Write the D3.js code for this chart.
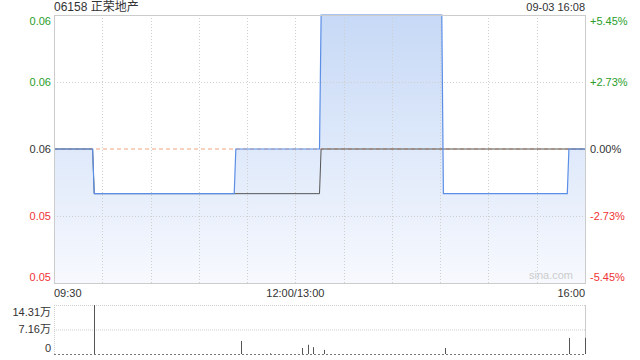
<!DOCTYPE html>
<html>
<head>
<meta charset="utf-8">
<script src="https://cdn.jsdelivr.net/npm/d3@7"></script>
<style>
  body { margin: 0; background: #fff; }
  svg text { font-family: "Liberation Sans", Arial, "Noto Sans CJK SC", sans-serif; }
</style>
</head>
<body>
<div id="chart"></div>
<script>
// price change points (time, price) and avg line change points
var priceTimes = ["09:30", "09:55", "11:23", "13:16", "14:32", "15:50", "16:00"];
var priceValues = [0.055, 0.054, 0.055, 0.058, 0.054, 0.055, 0.055];
var avgTimes = ["09:30", "09:55", "13:16", "16:00"];
var avgValues = [0.055, 0.054, 0.055, 0.055];

// volume bars (unit: 万)
var volTimes = ["09:55", "11:26", "11:44", "13:04", "13:08", "13:11", "13:18", "14:33", "15:50", "16:00"];
var volValues = [14.31, 3.8, 0.2, 1.75, 2.7, 2.0, 1.2, 1.75, 4.7, 4.7];

var prevClose = 0.055;
var yTicks = [0.052, 0.0535, 0.055, 0.0565, 0.058];
var yLabels = ["0.05", "0.05", "0.06", "0.06", "0.06"];
var pctLabels = ["-5.45%", "-2.73%", "0.00%", "+2.73%", "+5.45%"];
var xTickTimes = ["09:30", "12:00", "16:00"];
var xTickLabels = ["09:30", "12:00/13:00", "16:00"];
var volTicks = [0, 7.155, 14.31];
var volLabels = ["0", "7.16万", "14.31万"];

var title = "06158 正荣地产";
var stamp = "09-03 16:08";

// trading minutes since open (lunch break removed)
function tmin(s) {
  var p = s.split(":"), m = +p[0] * 60 + +p[1];
  return m <= 720 ? m - 570 : m - 780 + 150;
}

var W = 640, H = 360;
var pLeft = 54, pRight = 585, pTop = 15, pBottom = 283;
var vTop = 305, vBottom = 354;

var svg = d3.select("#chart").append("svg")
    .attr("width", W)
    .attr("height", H);

var x = d3.scaleLinear().domain([0, 330]).range([pLeft, pRight]);
var y = d3.scaleLinear().domain([0.052, 0.058]).range([pBottom, pTop]);
var yv = d3.scaleLinear().domain([0, 14.31]).range([vBottom, vTop]);

var defs = svg.append("defs");
var grad = defs.append("linearGradient")
    .attr("id", "fillGrad")
    .attr("gradientUnits", "userSpaceOnUse")
    .attr("x1", 0).attr("y1", pTop).attr("x2", 0).attr("y2", pBottom);
grad.append("stop").attr("offset", "0%").attr("stop-color", "#c6d9f6");
grad.append("stop").attr("offset", "100%").attr("stop-color", "#f7f9fe");

// build minute points: hold previous value until one minute before a change
function steps(times, vals) {
  var pts = [];
  times.forEach(function(t, i) {
    var m = tmin(t);
    if (i > 0 && vals[i] !== vals[i - 1]) pts.push([m - 1, vals[i - 1]]);
    pts.push([m, vals[i]]);
  });
  return pts;
}
var pricePts = steps(priceTimes, priceValues);
var avgPts = steps(avgTimes, avgValues);

// area
svg.append("path")
    .datum(pricePts)
    .attr("fill", "url(#fillGrad)")
    .attr("d", d3.area()
      .x(function(d) { return x(d[0]); })
      .y0(pBottom)
      .y1(function(d) { return y(d[1]); }));

// grid
var gridColor = "#cfcfcf";
for (var i = 1; i < 11; i++) {
  svg.append("line")
      .attr("x1", Math.round(x(i * 30)) + 0.5).attr("x2", Math.round(x(i * 30)) + 0.5)
      .attr("y1", pTop).attr("y2", pBottom)
      .attr("stroke", gridColor).attr("stroke-dasharray", "1,2");
}
[0.0535, 0.0565].forEach(function(v) {
  svg.append("line")
      .attr("x1", pLeft).attr("x2", pRight)
      .attr("y1", Math.round(y(v)) + 0.5).attr("y2", Math.round(y(v)) + 0.5)
      .attr("stroke", gridColor).attr("stroke-dasharray", "1,2");
});

// prev close dashed
svg.append("line")
    .attr("x1", pLeft).attr("x2", pRight)
    .attr("y1", y(prevClose)).attr("y2", y(prevClose))
    .attr("stroke", "#f2a57e").attr("stroke-dasharray", "4,3");

// avg line
svg.append("path")
    .datum(avgPts)
    .attr("fill", "none")
    .attr("stroke", "#555")
    .attr("stroke-width", 1)
    .attr("d", d3.line().x(function(d) { return x(d[0]); }).y(function(d) { return y(d[1]); }));

// price line
svg.append("path")
    .datum(pricePts)
    .attr("fill", "none")
    .attr("stroke", "#5b8ee6")
    .attr("stroke-width", 1.2)
    .attr("d", d3.line().x(function(d) { return x(d[0]); }).y(function(d) { return y(d[1]); }));

// border
svg.append("rect")
    .attr("x", pLeft + 0.5).attr("y", pTop + 0.5)
    .attr("width", pRight - pLeft).attr("height", pBottom - pTop)
    .attr("fill", "none").attr("stroke", "#cccccc");

// y labels
var colorOf = function(v) { return v > prevClose ? "#2a9d2a" : v < prevClose ? "#f03333" : "#333"; };
yTicks.forEach(function(v, i) {
  var yy = y(v);
  if (i === 0) yy -= 6;
  if (i === yTicks.length - 1) yy += 6;
  svg.append("text").attr("x", 51).attr("y", yy).attr("dy", "0.35em")
      .attr("text-anchor", "end").attr("font-size", 11).attr("fill", colorOf(v)).text(yLabels[i]);
  svg.append("text").attr("x", 590).attr("y", yy).attr("dy", "0.35em")
      .attr("text-anchor", "start").attr("font-size", 11).attr("fill", colorOf(v)).text(pctLabels[i]);
});

// watermark
svg.append("text").attr("x", 573).attr("y", 279).attr("text-anchor", "end")
    .attr("font-size", 11).attr("fill", "#cccccc").text("sina.com");

// title / stamp
svg.append("text").attr("x", pLeft).attr("y", 11).attr("font-size", 12).attr("fill", "#333").text(title);
svg.append("text").attr("x", pRight).attr("y", 11).attr("text-anchor", "end")
    .attr("font-size", 11).attr("fill", "#333").text(stamp);

// x labels
xTickTimes.forEach(function(t, i) {
  svg.append("text").attr("x", x(tmin(t))).attr("y", 297)
      .attr("text-anchor", i === 0 ? "start" : i === xTickTimes.length - 1 ? "end" : "middle")
      .attr("font-size", 11).attr("fill", "#333").text(xTickLabels[i]);
});

// volume panel grid
[7.155, 14.31].forEach(function(v) {
  svg.append("line")
      .attr("x1", pLeft).attr("x2", pRight)
      .attr("y1", yv(v) + 0.5).attr("y2", yv(v) + 0.5)
      .attr("stroke", gridColor).attr("stroke-dasharray", "1,1");
});
svg.append("line")
    .attr("x1", pLeft + 0.5).attr("x2", pLeft + 0.5).attr("y1", vTop).attr("y2", vBottom)
    .attr("stroke", gridColor).attr("stroke-dasharray", "1,1");
svg.append("line")
    .attr("x1", pRight + 0.5).attr("x2", pRight + 0.5).attr("y1", vTop).attr("y2", vBottom)
    .attr("stroke", "#cccccc");
svg.append("line")
    .attr("x1", pLeft).attr("x2", pRight)
    .attr("y1", yv(0) + 0.5).attr("y2", yv(0) + 0.5)
    .attr("stroke", "#777").attr("stroke-dasharray", "2,2");

// volume bars
svg.selectAll(".vol")
    .data(volTimes)
  .enter().append("line")
    .attr("class", "vol")
    .attr("x1", function(t) { return Math.round(x(tmin(t))) + 0.5; })
    .attr("x2", function(t) { return Math.round(x(tmin(t))) + 0.5; })
    .attr("y1", yv(0))
    .attr("y2", function(t, i) { return yv(volValues[i]); })
    .attr("stroke", "#555");

volTicks.forEach(function(v, i) {
  var yy = yv(v);
  if (i === 0) yy -= 6;
  if (i === volTicks.length - 1) yy += 7;
  svg.append("text").attr("x", 51).attr("y", yy).attr("dy", "0.35em")
      .attr("text-anchor", "end").attr("font-size", 11).attr("fill", "#333").text(volLabels[i]);
});
</script>
</body>
</html>
